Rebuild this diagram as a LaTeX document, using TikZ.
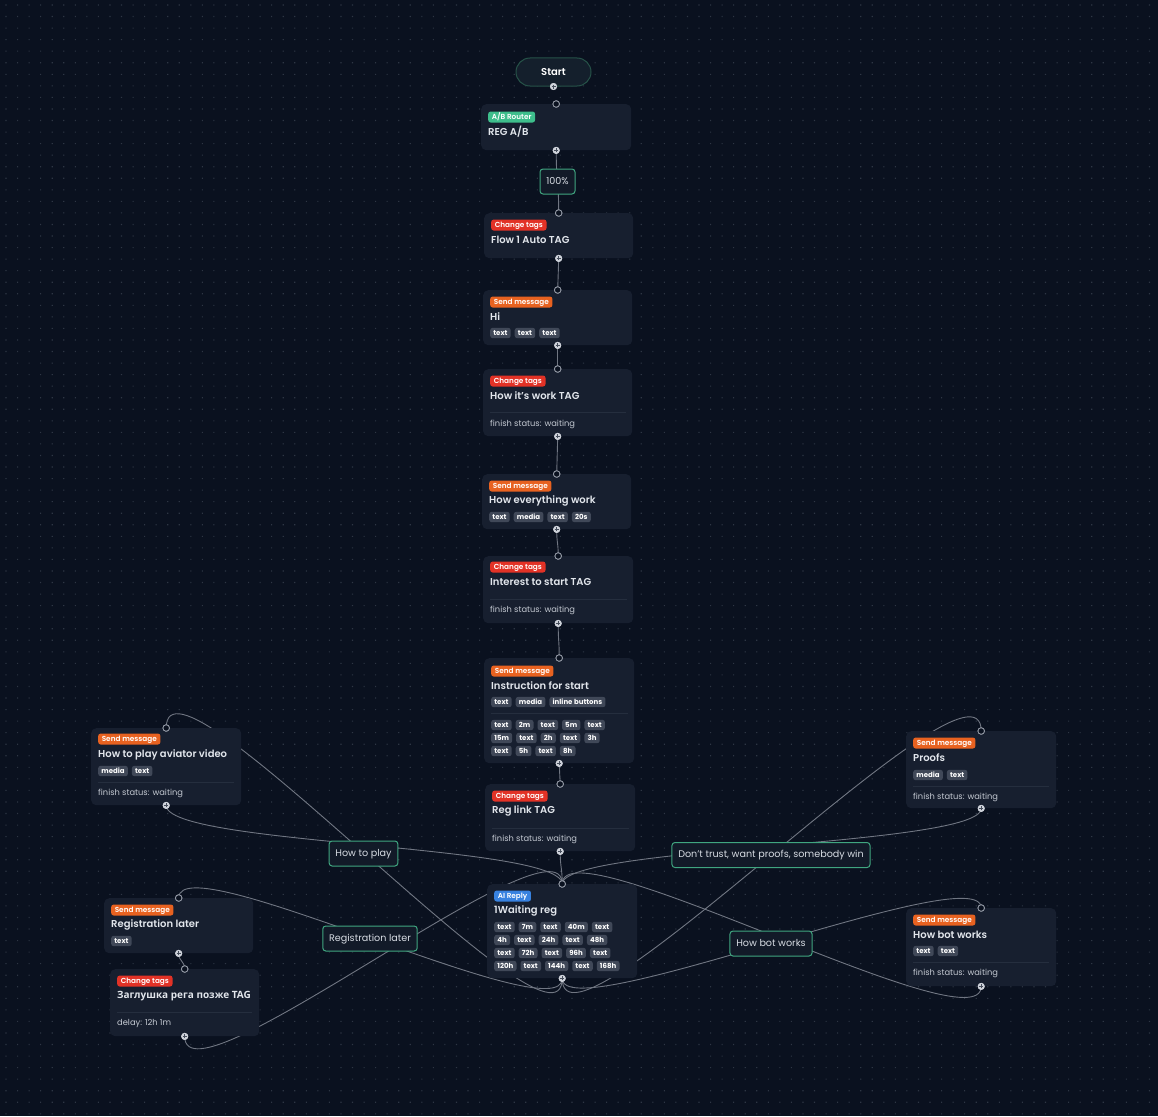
\documentclass[tikz,border=0pt]{standalone}
\usepackage{fontspec}
\setmainfont{Poppins}[FontFace={sb}{n}{Font={Poppins SemiBold}}]
\newfontfamily\cyrfont{Open Sans}
\usetikzlibrary{calc}

\definecolor{bgc}{RGB}{10,17,31}
\definecolor{dotc}{RGB}{46,54,68}
\definecolor{nodec}{RGB}{23,31,47}
\definecolor{divc}{RGB}{37,46,62}
\definecolor{titlec}{RGB}{226,230,236}
\definecolor{notec}{RGB}{196,201,210}
\definecolor{chipc}{RGB}{64,72,88}
\definecolor{edgec}{RGB}{112,118,130}
\definecolor{labfill}{RGB}{18,26,40}
\definecolor{labdraw}{RGB}{64,166,128}
\definecolor{labtext}{RGB}{214,219,226}
\definecolor{greenc}{RGB}{62,190,140}
\definecolor{redc}{RGB}{226,50,38}
\definecolor{orangec}{RGB}{232,98,32}
\definecolor{bluec}{RGB}{56,130,224}
\definecolor{startfill}{RGB}{20,31,44}
\definecolor{startdraw}{RGB}{38,82,72}
\definecolor{handc}{RGB}{150,156,168}
\definecolor{handf}{RGB}{206,210,218}
\definecolor{plusc}{RGB}{70,78,92}

\newcommand\sbf{\fontseries{sb}\selectfont}

\pgfdeclarelayer{back}
\pgfdeclarelayer{wires}
\pgfsetlayers{back,wires,main}

\tikzset{
  flowbox/.style={fill=nodec, rounded corners=5, draw=none, inner sep=0, anchor=north west},
  badge/.style={fill=#1, rounded corners=2.5, text=white, font=\fontsize{7.3}{8}\sbf,
    inner xsep=3.6, inner ysep=0, minimum height=11, text height=5.4, text depth=0.3, anchor=west},
  ttl/.style={text=titlec, font=\fontsize{10}{12}\sbf, inner sep=0, anchor=west},
  chip/.style={fill=chipc, rounded corners=2.5, text=white, font=\fontsize{7}{8}\bfseries,
    inner xsep=3.2, inner ysep=0, minimum height=10.4, text height=5.2, text depth=0, anchor=west},
  note/.style={text=notec, font=\fontsize{8.3}{10}\selectfont, inner sep=0, anchor=west},
  divider/.style={draw=divc, line width=0.7},
  edge/.style={draw=edgec, line width=0.9},
  elabel/.style={fill=labfill, draw=labdraw, line width=1, rounded corners=3, text=labtext,
    font=\fontsize{9.6}{11}\selectfont, inner xsep=6.3, inner ysep=0, minimum height=25,
    text height=7, text depth=1.9},
  startbox/.style={fill=startfill, draw=startdraw, line width=1, rounded corners=14,
    minimum width=75, minimum height=28, text=white, font=\fontsize{10}{12}\sbf},
  hin/.style={circle, draw=handc, fill=bgc, line width=0.8, inner sep=0, minimum size=6.5},
  hout/.style={circle, fill=handf, inner sep=0, minimum size=7,
    path picture={\draw[plusc, line width=0.7]
      ([xshift=-2pt]path picture bounding box.center) -- ([xshift=2pt]path picture bounding box.center)
      ([yshift=-2pt]path picture bounding box.center) -- ([yshift=2pt]path picture bounding box.center);}},
}

% box of a flow step: name, x, y (top left), width, height
\newcommand\flowbox[5]{\node[flowbox, minimum width=#4, minimum height=#5] (#1) at (#2,#3) {};
  \node[hin] (#1-in) at (#1.north) {};
  \node[hout] (#1-out) at (#1.south) {};}
% a row of chips: prefix, x, y, list
\newcommand\chiprow[4]{%
  \node[inner sep=0, minimum size=0, anchor=east] (#1-0) at (#2-3.6,#3) {};
  \foreach \t [count=\i, evaluate=\i as \j using int(\i-1)] in {#4} {
    \node[chip] (#1-\i) at ($(#1-\j.east)+(3.6,0)$) {\t};
  }}
% bezier connector from an output handle down to an input handle
\newcommand\flowedge[3]{\draw[edge] (#1.center) .. controls ([yshift=-#3pt]#1.center)
  and ([yshift=#3pt]#2.center) .. (#2.center);}

\begin{document}
\begin{tikzpicture}[x=1pt, y=-1pt]
\useasboundingbox (0,0) rectangle (1158,1116);

\begin{pgfonlayer}{back}
  \fill[bgc] (0,0) rectangle (1158,1116);
  \foreach \x in {6,17.55,...,1158} {
    \fill[dotc] \foreach \y in {5,16.55,...,1116} {(\x-0.55,\y-0.55) rectangle ++(1.1,1.1)};
  }
\end{pgfonlayer}

% ---- start
\node[startbox] (start) at (553.5,72) {Start};
\node[hout] (start-out) at (start.south) {};

% ---- REG A/B
\flowbox{reg}{481}{104}{150}{46}
\node[badge=greenc] (reg-b) at (488,117) {A/B Router};
\node[ttl] (reg-t) at (488,132) {REG A/B};

% ---- Flow 1 Auto TAG
\flowbox{flow}{484}{213}{149}{45}
\node[badge=redc] (flow-b) at (491,225) {Change tags};
\node[ttl] (flow-t) at (491,240) {Flow 1 Auto TAG};

% ---- Hi
\flowbox{hi}{483}{290}{149}{55}
\node[badge=orangec] (hi-b) at (490,302) {Send message};
\node[ttl] (hi-t) at (490,317) {Hi};
\chiprow{hic}{490}{333}{text,text,text}

% ---- How it's work TAG
\flowbox{hiw}{483}{369}{149}{67}
\node[badge=redc] (hiw-b) at (490,381) {Change tags};
\node[ttl] (hiw-t) at (490,396) {How it's work TAG};
\draw[divider] (490,412) -- (626,412);
\node[note] (hiw-n) at (490,424) {finish status: waiting};

% ---- How everything work
\flowbox{hew}{482}{474}{149}{55}
\node[badge=orangec] (hew-b) at (489,486) {Send message};
\node[ttl] (hew-t) at (489,501) {How everything work};
\chiprow{hewc}{489}{517}{text,media,text,20s}

% ---- Interest to start TAG
\flowbox{int}{483}{556}{150}{67}
\node[badge=redc] (int-b) at (490,567) {Change tags};
\node[ttl] (int-t) at (490,582) {Interest to start TAG};
\draw[divider] (490,599) -- (627,599);
\node[note] (int-n) at (490,610) {finish status: waiting};

% ---- Instruction for start
\flowbox{ins}{484}{658}{150}{105}
\node[badge=orangec] (ins-b) at (491,671) {Send message};
\node[ttl] (ins-t) at (491,686) {Instruction for start};
\chiprow{insa}{491}{702}{text,media,inline buttons}
\draw[divider] (491,713) -- (628,713);
\chiprow{insb}{491}{725}{text,2m,text,5m,text}
\chiprow{insc}{491}{738}{15m,text,2h,text,3h}
\chiprow{insd}{491}{751}{text,5h,text,8h}

% ---- Reg link TAG
\flowbox{rl}{485}{784}{150}{67}
\node[badge=redc] (rl-b) at (492,796) {Change tags};
\node[ttl] (rl-t) at (492,811) {Reg link TAG};
\draw[divider] (492,828) -- (629,828);
\node[note] (rl-n) at (492,839) {finish status: waiting};

% ---- 1Waiting reg
\flowbox{ai}{487}{884}{150}{94}
\node[badge=bluec] (ai-b) at (494,896) {AI Reply};
\node[ttl] (ai-t) at (494,911) {1Waiting reg};
\chiprow{aia}{494}{927}{text,7m,text,40m,text}
\chiprow{aib}{494}{940}{4h,text,24h,text,48h}
\chiprow{aic}{494}{953}{text,72h,text,96h,text}
\chiprow{aid}{494}{966}{120h,text,144h,text,168h}

% ---- How to play aviator video
\flowbox{av}{91}{728}{150}{77}
\node[badge=orangec] (av-b) at (98,739) {Send message};
\node[ttl] (av-t) at (98,755) {How to play aviator video};
\chiprow{avc}{98}{771}{media,text}
\draw[divider] (98,782) -- (234,782);
\node[note] (av-n) at (98,793) {finish status: waiting};

% ---- Registration later
\flowbox{rlat}{104}{898}{149}{55}
\node[badge=orangec] (rlat-b) at (111,910) {Send message};
\node[ttl] (rlat-t) at (111,925) {Registration later};
\chiprow{rlatc}{111}{941}{text}

% ---- stub tag
\flowbox{zag}{110}{969}{149}{67}
\node[badge=redc] (zag-b) at (117,981) {Change tags};
\node[ttl, font=\fontsize{10}{12}\cyrfont\bfseries] (zag-t) at (117,996) {Заглушка рега позже TAG};
\draw[divider] (117,1012) -- (252,1012);
\node[note] (zag-n) at (117,1023) {delay: 12h 1m};

% ---- Proofs
\flowbox{pr}{906}{731}{150}{77}
\node[badge=orangec] (pr-b) at (913,743) {Send message};
\node[ttl] (pr-t) at (913,758) {Proofs};
\chiprow{prc}{913}{775}{media,text}
\draw[divider] (913,786) -- (1049,786);
\node[note] (pr-n) at (913,797) {finish status: waiting};

% ---- How bot works
\flowbox{hb}{906}{908}{150}{78}
\node[badge=orangec] (hb-b) at (913,920) {Send message};
\node[ttl] (hb-t) at (913,935) {How bot works};
\chiprow{hbc}{913}{951}{text,text}
\draw[divider] (913,962) -- (1049,962);
\node[note] (hb-n) at (913,973) {finish status: waiting};

% ---- connectors
\begin{pgfonlayer}{wires}
\flowedge{reg-out}{flow-in}{32}
\flowedge{flow-out}{hi-in}{16.5}
\flowedge{hi-out}{hiw-in}{12.5}
\flowedge{hiw-out}{hew-in}{19.5}
\flowedge{hew-out}{int-in}{14}
\flowedge{int-out}{ins-in}{19}
\flowedge{ins-out}{rl-in}{11}
\flowedge{rl-out}{ai-in}{17}
\flowedge{ai-out}{av-in}{98.6}
\flowedge{ai-out}{rlat-in}{55.2}
\flowedge{ai-out}{pr-in}{97.8}
\flowedge{ai-out}{hb-in}{51.5}
\flowedge{av-out}{ai-in}{40}
\flowedge{rlat-out}{zag-in}{8}
\flowedge{zag-out}{ai-in}{76.5}
\flowedge{pr-out}{ai-in}{38}
\flowedge{hb-out}{ai-in}{62.8}
\end{pgfonlayer}

% ---- connector labels
\node[elabel] (l100) at (557.5,181.5) {100\%};
\node[elabel] (lhtp) at (363.5,853.5) {How to play};
\node[elabel] (lrl) at (370,938.5) {Registration later};
\node[elabel] (ldt) at (771,855) {Don't trust, want proofs, somebody win};
\node[elabel] (lhb) at (771,943.5) {How bot works};

% handles on top of everything
\foreach \n in {reg,flow,hi,hiw,hew,int,ins,rl,ai,av,rlat,zag,pr,hb} {
  \node[hin] at (\n-in) {};
  \node[hout] at (\n-out) {};
}
\node[hout] at (start-out) {};
\end{tikzpicture}
\end{document}
